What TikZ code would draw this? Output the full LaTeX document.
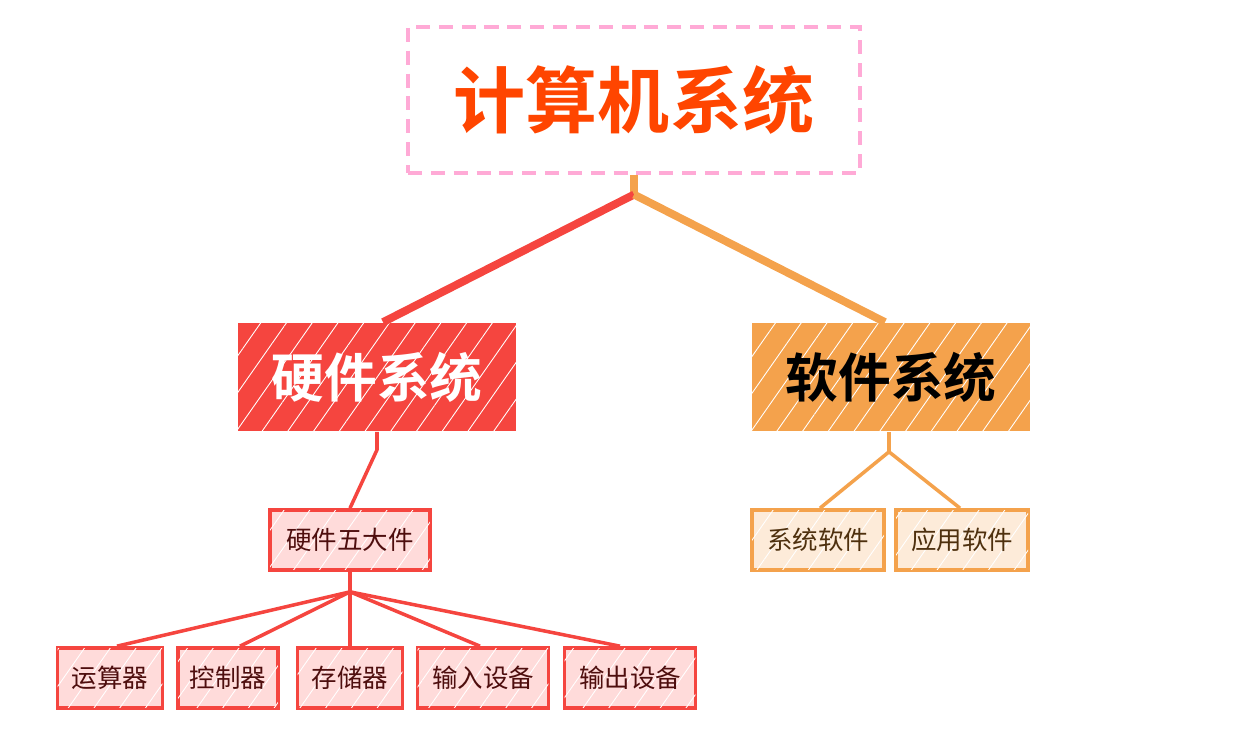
\documentclass[tikz,border=0pt]{standalone}
\usepackage{fontspec}
\setmainfont{Noto Sans CJK SC}
\newfontfamily\cjkbold{Noto Sans CJK SC Bold}
\usetikzlibrary{patterns.meta}

\definecolor{titlered}{HTML}{FF4500}
\definecolor{dashpink}{HTML}{FFAAD6}
\definecolor{hwred}{HTML}{F5453F}
\definecolor{sworange}{HTML}{F4A24C}
\definecolor{hwlight}{HTML}{FFDBDA}
\definecolor{swlight}{HTML}{FDEBD9}
\definecolor{hwtext}{HTML}{4E0E0E}
\definecolor{swtext}{HTML}{4E300E}

\begin{document}
\begin{tikzpicture}[x=0.02cm, y=-0.02cm,
  hatch/.style={postaction={pattern={Lines[angle=55,distance=12pt,line width=0.5pt]}, pattern color=white, fill opacity=0.4}},
  bigbox/.style={minimum width=5.56cm, minimum height=2.18cm, inner sep=0pt, hatch, font=\cjkbold\fontsize{30}{30}\selectfont},
  smallbox/.style={line width=2.1pt, minimum height=1.2cm, inner sep=0pt, hatch, font=\fontsize{14.5}{15}\selectfont},
  hwsmall/.style={smallbox, draw=hwred, fill=hwlight, text=hwtext},
  swsmall/.style={smallbox, draw=sworange, fill=swlight, text=swtext, minimum width=2.64cm},
  bigline/.style={line width=4.5pt, line join=round},
  midline/.style={line width=2pt, line join=round}]
\useasboundingbox (0,0) rectangle (1254,732);

% top
\node[draw=dashpink, dashed, dash pattern=on 8pt off 5pt, line width=1.8pt, minimum width=9.04cm, minimum height=2.92cm, inner sep=0pt, text=titlered, font=\cjkbold\fontsize{41}{41}\selectfont] (top) at (634,100) {计算机系统};

% level 1
\node[bigbox, fill=hwred, text=white] (hw) at (377,377) {硬件系统};
\node[bigbox, fill=sworange, text=black] (sw) at (891,377) {软件系统};

% level 2
\node[hwsmall, minimum width=3.2cm] (five) at (350,540) {硬件五大件};
\node[swsmall] (syssw) at (818,540) {系统软件};
\node[swsmall] (appsw) at (962,540) {应用软件};

% level 3
\node[hwsmall, minimum width=2.1cm] (alu) at (110,678) {运算器};
\node[hwsmall, minimum width=2.0cm] (cu) at (228,678) {控制器};
\node[hwsmall, minimum width=2.1cm] (mem) at (350,678) {存储器};
\node[hwsmall, minimum width=2.62cm] (inp) at (483,678) {输入设备};
\node[hwsmall, minimum width=2.62cm] (outp) at (630,678) {输出设备};

% connectors
\draw[bigline, sworange] (top.south) -- ++(0,20) coordinate (tj);
\draw[bigline, hwred] (tj) -- ([xshift=0.12cm]hw.north);
\draw[bigline, sworange] (tj) -- ([xshift=-0.12cm]sw.north);

\draw[midline, hwred] (hw.south) -- ++(0,18) -- (five.north);
\draw[midline, sworange] ([xshift=-0.04cm]sw.south) -- ++(0,20) coordinate (sj);
\draw[midline, sworange] (sj) -- ([xshift=0.04cm]syssw.north);
\draw[midline, sworange] (sj) -- ([xshift=-0.04cm]appsw.north);

\draw[midline, hwred] (five.south) -- ++(0,20) coordinate (fj);
\foreach \n/\dx in {alu/7, cu/12, mem/0, inp/-3, outp/-10}
  \draw[midline, hwred] (fj) -- ([xshift=\dx*0.02cm]\n.north);
\end{tikzpicture}
\end{document}
